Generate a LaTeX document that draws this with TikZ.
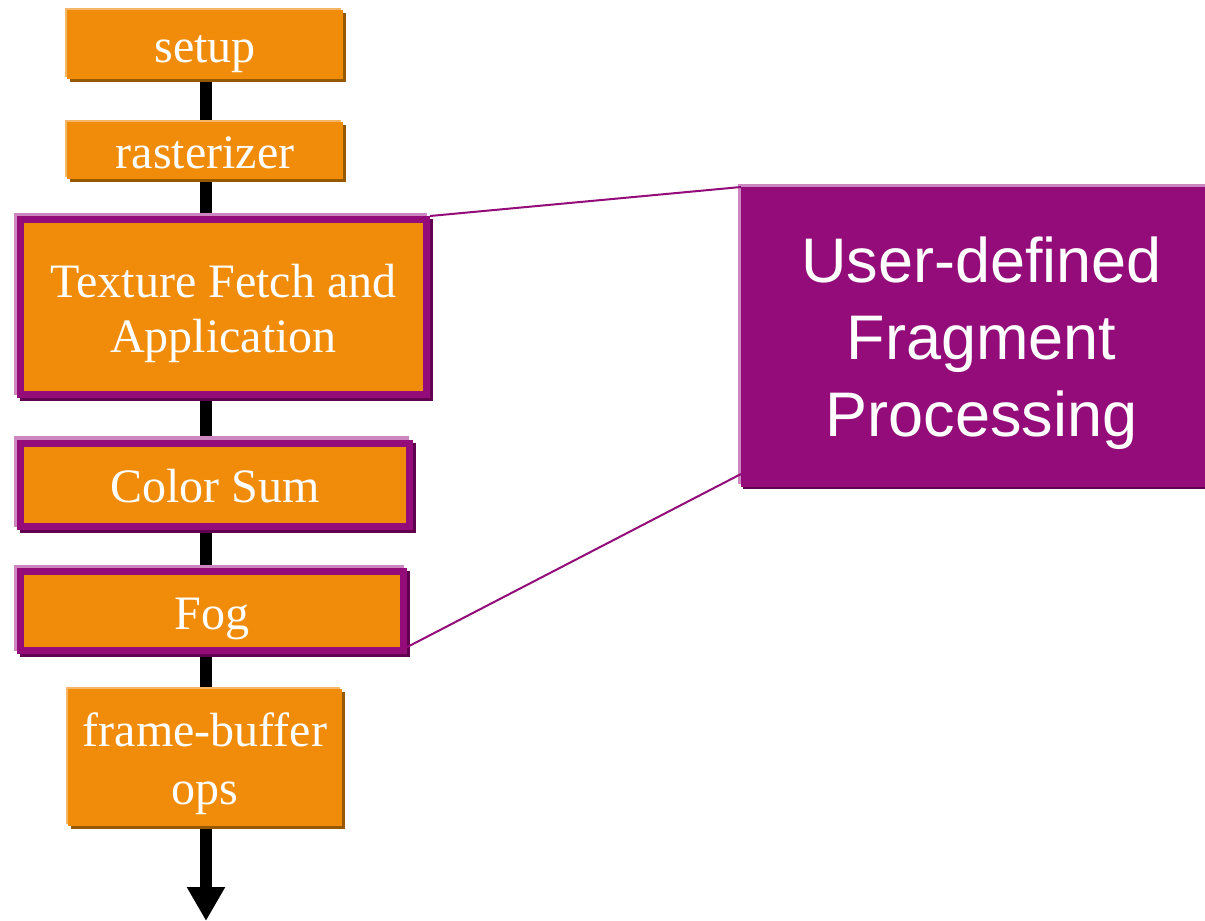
\documentclass[tikz,border=0pt]{standalone}
\usepackage{fontspec}
\setmainfont{Liberation Serif}
\newfontfamily\arialf{Liberation Sans}
\usetikzlibrary{arrows.meta,backgrounds,calc}

\definecolor{stageorange}{RGB}{240,140,10}
\definecolor{stagehi}{RGB}{246,182,104}
\definecolor{stagelo}{RGB}{150,88,0}
\definecolor{fragpurple}{RGB}{147,12,121}
\definecolor{fraghi}{RGB}{204,134,192}
\definecolor{fraglo}{RGB}{98,0,80}

\tikzset{
  serif48/.style={font=\fontsize{48}{#1}\selectfont},
  stage/.style={fill=stageorange, text=white, inner sep=0pt, outer sep=0pt,
    align=center, serif48=57,
    preaction={fill=stagehi, transform canvas={shift={(-2.5pt,2.5pt)}}},
    preaction={fill=stagelo, transform canvas={shift={(2.5pt,-2.5pt)}}}},
  fragstage/.style={fill=stageorange, draw=fragpurple, line width=7pt,
    text=white, inner sep=0pt, align=center, serif48=57,
    preaction={fill=fraghi, draw=fraghi, transform canvas={shift={(-3.5pt,3.5pt)}}},
    preaction={fill=fraglo, draw=fraglo, transform canvas={shift={(3pt,-3pt)}}}},
  fragbox/.style={fill=fragpurple, text=white, inner sep=0pt, outer sep=0pt,
    align=center, font=\arialf\fontsize{63}{77}\selectfont,
    preaction={fill=fraghi, transform canvas={shift={(-3.5pt,3pt)}}},
    preaction={fill=fraglo, transform canvas={shift={(2pt,-2pt)}}}},
  % the text box sits on its last baseline: height = first cap line + earlier lines
  textlines/.style={text height=#1, text depth=0pt},
  oneline/.style={textlines=36pt},
  trunk/.style={line width=12pt, -{Triangle[width=36pt,length=34pt]}},
  link/.style={draw=fragpurple, line width=2pt},
}

\begin{document}
\begin{tikzpicture}[x=1pt,y=1pt]
  \useasboundingbox (0,0) rectangle (1205,-921);

  % fixed-function stages
  \node[stage, oneline, minimum width=276pt, minimum height=69pt]
    (setup) at (205,-44.5) {setup};
  \node[stage, oneline, minimum width=276pt, minimum height=57pt]
    (rast) at (205,-150.5) {rasterizer};

  % stages replaced by the fragment program
  \node[fragstage, serif48=55, textlines=91pt,
        minimum width=406pt, minimum height=175pt]
    (tex) at (223.5,-307) {Texture Fetch and\\Application};
  \node[fragstage, oneline, minimum width=388.5pt, minimum height=83.5pt]
    (csum) at (214.75,-484.75) {Color Sum};
  \node[fragstage, oneline, minimum width=383pt, minimum height=79pt]
    (fog) at (212,-611) {Fog};

  \node[stage, serif48=58, textlines=94pt,
        minimum width=274pt, minimum height=137pt]
    (fb) at (205,-757.5) {frame-buffer\\ops};

  % programmable replacement
  \node[fragbox, textlines=199pt, minimum width=481pt, minimum height=300pt]
    (udf) at (981.5,-337) {User-defined\\Fragment\\Processing};

  \coordinate (flowend) at (206,-921);

  % bracket lines to the programmable block
  \draw[link] (tex.north east) -- (udf.north west);
  \draw[link] ($(fog.east)!0.84!(fog.south east)$) -- ($(udf.south west)+(0,13)$);

  \begin{scope}[on background layer]
    \fill[white] (0,0) rectangle (1205,-921);
    \draw[trunk] (setup.center -| flowend) -- (flowend);
  \end{scope}
\end{tikzpicture}
\end{document}
